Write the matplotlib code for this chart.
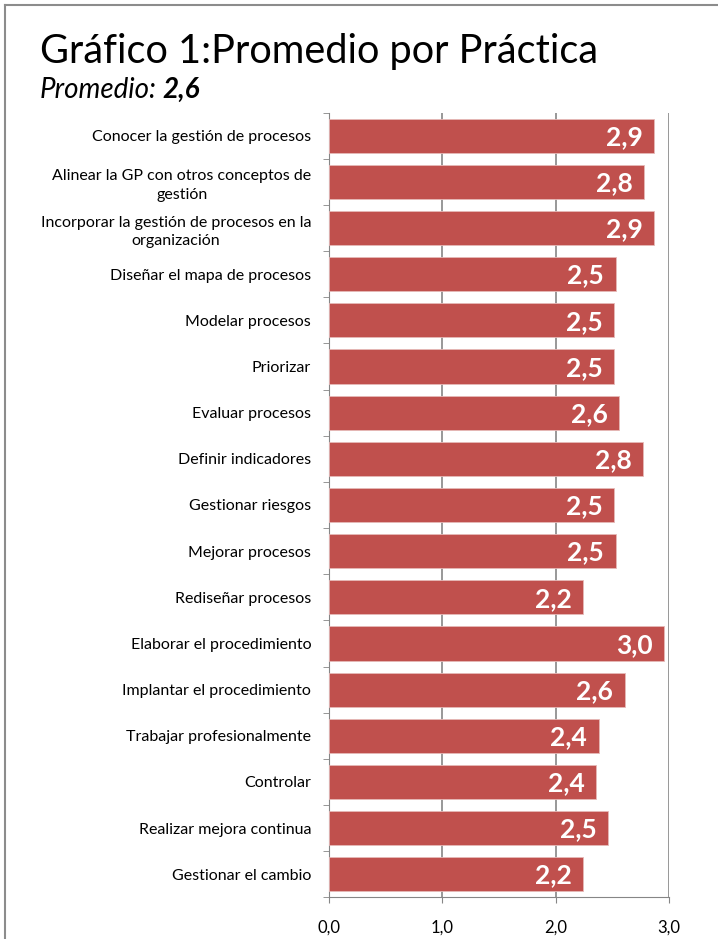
import numpy as np
import matplotlib
matplotlib.use("Agg")
from matplotlib import pyplot as plt
from matplotlib.lines import Line2D

plt.rcParams['font.family'] = ['Lato', 'DejaVu Sans']

# データ
practicas = [
    "Conocer la gestión de procesos",
    "Alinear la GP con otros conceptos de\ngestión",
    "Incorporar la gestión de procesos en la\norganización",
    "Diseñar el mapa de procesos",
    "Modelar procesos",
    "Priorizar",
    "Evaluar procesos",
    "Definir indicadores",
    "Gestionar riesgos",
    "Mejorar procesos",
    "Rediseñar procesos",
    "Elaborar el procedimiento",
    "Implantar el procedimiento",
    "Trabajar profesionalmente",
    "Controlar",
    "Realizar mejora continua",
    "Gestionar el cambio",
]
promedios = [2.87, 2.78, 2.87, 2.53, 2.52, 2.52, 2.56, 2.77, 2.52, 2.53,
             2.24, 2.96, 2.61, 2.38, 2.36, 2.46, 2.24]
xticks = [0, 1, 2, 3]
promedio_total = "2,6"

bar_color = "#C0504D"
grid_color = "#868686"

fig = plt.figure(figsize=(7.18, 9.39), dpi=100)
ax = fig.add_axes([0.4586, 0.0444, 0.9313 - 0.4586, 0.880 - 0.0444])

y = np.arange(len(practicas))
ax.barh(y, promedios, height=0.74, color=bar_color, edgecolor="#E6B9B8",
        linewidth=0.6, zorder=3)

# 値ラベル
for yi, v in zip(y, promedios):
    ax.text(v - 0.1, yi + 0.03, f"{v:.1f}".replace(".", ","), ha="right", va="center",
            color="white", fontsize=19, fontweight="bold", zorder=4)

ax.set_ylim(len(practicas) - 0.5, -0.5)
ax.set_xlim(0, 3)

# 目盛り
ax.set_yticks(y)
ax.set_yticklabels(practicas, fontsize=11.5, multialignment="center", linespacing=1.4)
ax.set_yticks(np.arange(-0.5, len(practicas), 1), minor=True)
ax.tick_params(axis="y", which="major", length=0, pad=13)
ax.tick_params(axis="y", which="minor", length=4, color=grid_color, direction="out")

ax.set_xticks(xticks)
ax.set_xticklabels([f"{t:.1f}".replace(".", ",") for t in xticks], fontsize=12)
ax.tick_params(axis="x", length=4, color=grid_color, direction="out", pad=12)

ax.grid(axis="x", color=grid_color, linewidth=1.2, zorder=0)
for side in ["top", "right"]:
    ax.spines[side].set_visible(False)
for side in ["left", "bottom"]:
    ax.spines[side].set_color(grid_color)

# タイトル
fig.text(40 / 718, 1 - 63 / 939, "Gráfico 1:Promedio por Práctica", fontsize=28.6,
         ha="left", va="baseline")
sub = fig.text(40 / 718, 1 - 98 / 939, "Promedio:", fontsize=20, style="italic",
               ha="left", va="baseline")
fig.canvas.draw()
bb = sub.get_window_extent()
fig.text((bb.x1 + 6) / 718, 1 - 98 / 939, promedio_total, fontsize=20, style="italic",
         fontweight="bold", ha="left", va="baseline")

# 枠線
fig.add_artist(Line2D([5 / 718, 1], [1 - 5 / 939, 1 - 5 / 939], color="#8C8C8C",
                      linewidth=1.5, transform=fig.transFigure))
fig.add_artist(Line2D([5 / 718, 5 / 718], [0, 1 - 5 / 939], color="#8C8C8C",
                      linewidth=1.5, transform=fig.transFigure))

fig.savefig("out.png", dpi=100)
